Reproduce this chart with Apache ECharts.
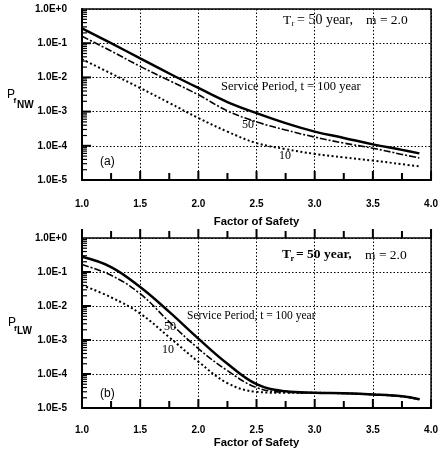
<!DOCTYPE html>
<html>
<head>
<meta charset="utf-8">
<script src="https://cdn.jsdelivr.net/npm/echarts@6/dist/echarts.min.js"></script>
<style>
html, body { margin: 0; padding: 0; background: #fff; }
#chart { width: 441px; height: 454px; }
</style>
</head>
<body>
<div id="chart"></div>
<script>
// factor of safety
var factor = [1.0, 1.25, 1.5, 1.75, 2.0, 2.25, 2.5, 2.75, 3.0, 3.25, 3.5, 3.75, 3.9];

// (a) P_f NW
var nw100 = [0.27, 0.1, 0.036, 0.013, 4.9e-3, 1.9e-3, 9e-4, 4.6e-4, 2.6e-4, 1.7e-4, 1.1e-4, 7.6e-5, 6e-5];
var nw50 = [0.16, 0.059, 0.021, 8.1e-3, 3.1e-3, 1.05e-3, 5e-4, 2.9e-4, 1.8e-4, 1.2e-4, 8.5e-5, 5.6e-5, 4.4e-5];
var nw10 = [0.034, 0.013, 4.9e-3, 1.8e-3, 6.5e-4, 2.6e-4, 1.2e-4, 8e-5, 5.8e-5, 4.6e-5, 3.7e-5, 2.9e-5, 2.5e-5];

// (b) P_f LW
var lw100 = [0.28, 0.14, 0.036, 6.7e-3, 1.1e-3, 2e-4, 5e-5, 3.1e-5, 2.8e-5, 2.7e-5, 2.5e-5, 2.2e-5, 1.8e-5];
var lw50 = [0.165, 0.08, 0.023, 3.4e-3, 5.6e-4, 1.25e-4, 4e-5, 2.9e-5, 2.8e-5, 2.7e-5, 2.5e-5, 2.2e-5, 1.8e-5];
var lw10 = [0.041, 0.018, 6e-3, 1.2e-3, 2.3e-4, 5.4e-5, 3e-5, 2.8e-5, 2.8e-5, 2.7e-5, 2.5e-5, 2.2e-5, 1.8e-5];

// axis ranges
var xMin = 1, xMax = 4;
var yMin = 1e-5, yMax = 1;

// tick positions: x every 0.25, y at 1..9 x 10^e
var xTicks = [];
for (var i = 0; i <= 12; i++) xTicks.push(1 + i * 0.25);
var yTicks = [];
for (var e = -5; e < 0; e++) {
    for (var k = 1; k <= 9; k++) yTicks.push(k * Math.pow(10, e));
}

// plot boxes
var grids = [
    { left: 82, top: 9, width: 353, height: 171 },
    { left: 82, top: 238, width: 353, height: 170 }
];

var myChart = echarts.init(document.getElementById('chart'));

function pairs(arr) {
    return factor.map(function (x, i) { return [x, arr[i]]; });
}

function xAxisOf(gridIndex, nameGap, margin) {
    return {
        type: 'value', gridIndex: gridIndex, min: xMin, max: xMax, interval: 0.5,
        name: 'Factor of Safety', nameLocation: 'middle', nameGap: nameGap,
        nameTextStyle: { fontFamily: 'Liberation Sans', fontWeight: 'bold', fontSize: 11.3, color: '#000' },
        axisLine: { show: true, lineStyle: { color: '#000', width: 2 } },
        axisTick: { show: false },
        axisLabel: {
            margin: margin, color: '#000', fontFamily: 'Liberation Sans', fontWeight: 'bold', fontSize: 10,
            formatter: function (v) { return v.toFixed(1); }
        },
        splitLine: { show: true, lineStyle: { color: '#000', type: [1.5, 2], width: 1 } }
    };
}

function yAxisOf(gridIndex) {
    return {
        type: 'log', logBase: 10, gridIndex: gridIndex, min: yMin, max: yMax, splitNumber: 5,
        axisLine: { show: true, lineStyle: { color: '#000', width: 2 } },
        axisTick: { show: false },
        axisLabel: {
            margin: 15, color: '#000', fontFamily: 'Liberation Sans', fontWeight: 'bold', fontSize: 10,
            formatter: function (v) { return v.toExponential(1).toUpperCase(); }
        },
        splitLine: { show: true, lineStyle: { color: '#000', type: [1.5, 2], width: 1 } }
    };
}

// tick marks along the plot edges
// side: 'bottom' (inside, up), 'top' (outside, up), 'left' (inside, right)
function ticks(gi, side) {
    var g = grids[gi];
    var list = side === 'left' ? yTicks : xTicks;
    var data = list.map(function (v) { return side === 'left' ? [xMin, v] : [v, 0.1]; });
    var lMax = Math.log10(yMax), lMin = Math.log10(yMin);
    return {
        type: 'custom', xAxisIndex: gi, yAxisIndex: gi, data: data, silent: true, clip: false, z: 6,
        renderItem: function (params, api) {
            var raw = list[params.dataIndex];
            var major, len;
            if (side === 'left') {
                var m = Math.log10(raw);
                major = Math.abs(m - Math.round(m)) < 1e-6;
                len = major ? 9 : 5;
                var py = g.top + g.height * (lMax - m) / (lMax - lMin);
                return {
                    type: 'line', shape: { x1: g.left, y1: py, x2: g.left + len, y2: py },
                    style: { stroke: '#000', lineWidth: major ? 2 : 1.2 }
                };
            }
            var px = api.coord([raw, 0.1])[0];
            if (!isFinite(px)) px = g.left + g.width * (raw - xMin) / (xMax - xMin);
            major = Math.abs(raw * 2 - Math.round(raw * 2)) < 1e-6;
            len = major ? 9 : 7;
            var y1 = side === 'top' ? g.top : g.top + g.height;
            return {
                type: 'line', shape: { x1: px, y1: y1, x2: px, y2: y1 - len },
                style: { stroke: '#000', lineWidth: 2 }
            };
        }
    };
}

function line(name, arr, gi, kind) {
    var style = { color: '#000' };
    if (kind === 'solid') { style.width = 2.5; style.type = 'solid'; }
    if (kind === 'dash') { style.width = 1.6; style.type = [7, 2, 2, 2]; }
    if (kind === 'dot') { style.width = 2; style.type = [2, 2.5]; }
    return {
        name: name, type: 'line', xAxisIndex: gi, yAxisIndex: gi, data: pairs(arr),
        smooth: 0.4, showSymbol: false, lineStyle: style, itemStyle: { color: '#000' }, z: 5
    };
}

function txt(s, x, y, size, family, weight) {
    return {
        type: 'text', x: x, y: y, silent: true,
        style: {
            text: s, fill: '#000', fontSize: size, fontFamily: family || 'Liberation Serif',
            fontWeight: weight || 'normal', verticalAlign: 'middle', align: 'left'
        }
    };
}

var option = {
    animation: false,
    backgroundColor: '#fff',
    grid: grids.map(function (g) {
        return {
            left: g.left, top: g.top, width: g.width, height: g.height,
            show: true, borderColor: '#000', borderWidth: 1.5
        };
    }),
    xAxis: [xAxisOf(0, 36, 19), xAxisOf(1, 29, 17)],
    yAxis: [yAxisOf(0), yAxisOf(1)],
    series: [
        line('t=100 (a)', nw100, 0, 'solid'),
        line('t=50 (a)', nw50, 0, 'dash'),
        line('t=10 (a)', nw10, 0, 'dot'),
        line('t=100 (b)', lw100, 1, 'solid'),
        line('t=50 (b)', lw50, 1, 'dash'),
        line('t=10 (b)', lw10, 1, 'dot'),
        ticks(0, 'bottom'), ticks(0, 'left'),
        ticks(1, 'bottom'), ticks(1, 'top'), ticks(1, 'left')
    ],
    graphic: [
        // y titles
        txt('P', 7, 95, 12, 'Liberation Sans'),
        txt('f', 13.5, 101, 8, 'Liberation Sans', 'bold'),
        txt('NW', 17, 105, 10, 'Liberation Sans', 'bold'),
        txt('P', 8, 323, 12, 'Liberation Sans'),
        txt('f', 14, 329, 8, 'Liberation Sans', 'bold'),
        txt('LW', 17, 331, 10, 'Liberation Sans', 'bold'),
        // (a)
        txt('T', 283, 20, 13.5),
        txt('r', 291.5, 24, 8.5),
        txt('= 50 year,', 297, 20, 14),
        txt('m = 2.0', 366, 20, 13.5),
        txt('Service Period, t = 100 year', 221, 87, 12.5),
        txt('50', 242, 125, 12),
        txt('10', 279, 156, 12),
        txt('(a)', 100, 162, 12, 'Liberation Sans'),
        // (b)
        txt('T', 282, 255, 13.5, null, 'bold'),
        txt('r', 290.5, 259, 8.5, null, 'bold'),
        txt('= 50 year,', 296, 255, 13.5, null, 'bold'),
        txt('m = 2.0', 365, 255, 13.5),
        txt('Service Period, t = 100 year', 187, 316, 11.5),
        txt('50', 164, 327, 12),
        txt('10', 162, 350, 12),
        txt('(b)', 100, 394, 12, 'Liberation Sans')
    ]
};

myChart.setOption(option);
</script>
</body>
</html>
